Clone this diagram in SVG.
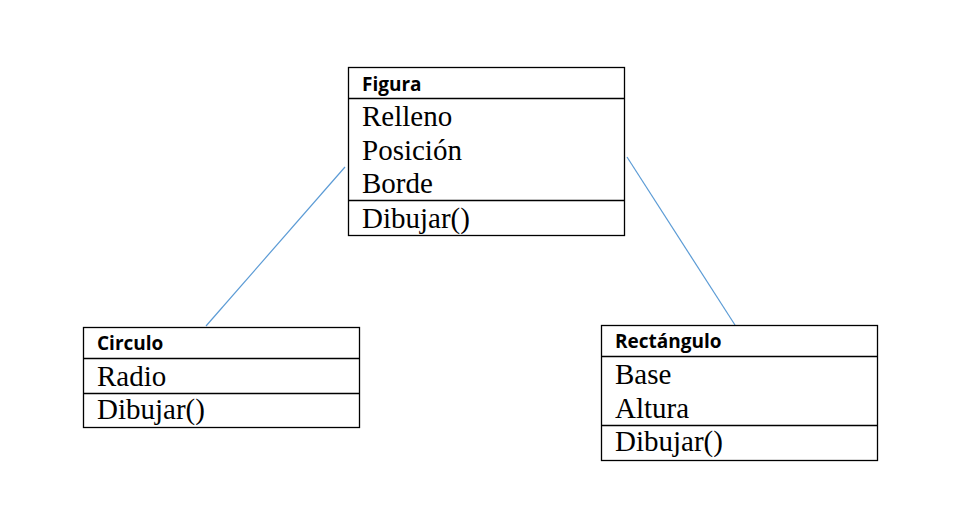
<svg xmlns="http://www.w3.org/2000/svg" width="975" height="529" viewBox="0 0 975 529">
<style>
.box{fill:#fff;stroke:#000;stroke-width:1.3}
.div{stroke:#000;stroke-width:1.3}
.h{font-family:"Open Sans","Noto Sans",sans-serif;font-weight:bold;font-size:19px;fill:#000}
.t{font-family:"Liberation Serif","Times New Roman",serif;font-size:29px;fill:#000}
.c{stroke:#5b9bd5;stroke-width:1.2;fill:none}
</style>
<rect width="975" height="529" fill="#fff"/>
<g id="connectors">
<line class="c" x1="345" y1="167" x2="206" y2="326"/>
<line class="c" x1="627" y1="157" x2="735" y2="325"/>
</g>
<g id="figura">
<rect class="box" x="348.5" y="67.5" width="276" height="168"/>
<line class="div" x1="348.5" y1="98.5" x2="624.5" y2="98.5"/>
<line class="div" x1="348.5" y1="200.5" x2="624.5" y2="200.5"/>
<text class="h" x="362" y="91">Figura</text>
<text class="t" x="362" y="126">Relleno</text>
<text class="t" x="362" y="160">Posición</text>
<text class="t" x="362" y="193">Borde</text>
<text class="t" x="362" y="228">Dibujar()</text>
</g>
<g id="circulo">
<rect class="box" x="83.5" y="327.5" width="276" height="100"/>
<line class="div" x1="83.5" y1="358.5" x2="359.5" y2="358.5"/>
<line class="div" x1="83.5" y1="393.5" x2="359.5" y2="393.5"/>
<text class="h" x="97" y="350">Circulo</text>
<text class="t" x="97" y="386">Radio</text>
<text class="t" x="97" y="419">Dibujar()</text>
</g>
<g id="rectangulo">
<rect class="box" x="601.5" y="325.5" width="276" height="135"/>
<line class="div" x1="601.5" y1="356.5" x2="877.5" y2="356.5"/>
<line class="div" x1="601.5" y1="425.5" x2="877.5" y2="425.5"/>
<text class="h" x="615" y="348">Rectángulo</text>
<text class="t" x="615" y="384">Base</text>
<text class="t" x="615" y="418">Altura</text>
<text class="t" x="615" y="451">Dibujar()</text>
</g>
</svg>
